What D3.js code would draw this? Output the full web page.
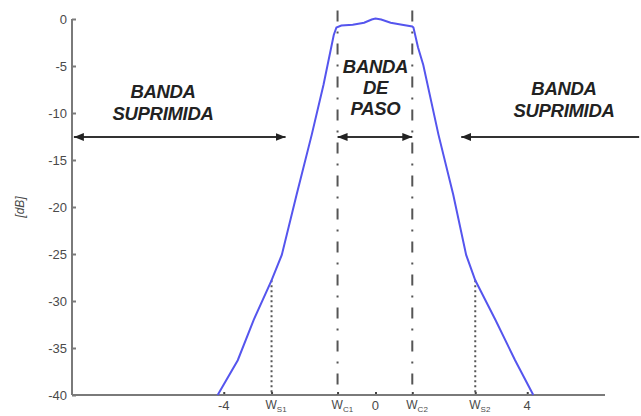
<!DOCTYPE html>
<html>
<head>
<meta charset="utf-8">
<script src="https://cdn.jsdelivr.net/npm/d3@7"></script>
<style>
  html, body { margin: 0; padding: 0; background: #fff; }
  svg { display: block; }
  text { font-family: "Liberation Sans", Arial, sans-serif; }
</style>
</head>
<body>
<svg id="chart" width="641" height="416"></svg>
<script>
// Band-pass filter magnitude response (dB) vs normalised frequency
const freq = [-4.16, -3.63, -3.21, -2.74, -2.47, -2.08, -1.68, -1.37, -1.1, -1.03,
              -0.9, -0.6, -0.3, -0.1, 0, 0.15, 0.4, 0.7, 0.97,
              1.0, 1.04, 1.12, 1.26, 1.66, 2.05, 2.39, 2.63, 3.16, 3.68, 4.16];
const magDb = [-40, -36.3, -32, -27.8, -25.1, -18.7, -12.3, -7.0, -1.7, -0.9,
               -0.7, -0.6, -0.4, -0.05, 0.05, -0.05, -0.4, -0.6, -0.8,
               -0.9, -1.6, -3.0, -4.9, -12.3, -18.7, -25.1, -27.8, -32, -36.3, -40];

// Cut-off (pass band edges) and stop band edges
const cutoff = [-1.0, 0.97];
const stopEdge = [-2.74, 2.63];
const stopEdgeDb = -27.8;

// Tick values and labels
const yTicks = [0, -5, -10, -15, -20, -25, -30, -35, -40];
const xNumTicks = [-4, 0, 4];
const xSymTicks = [
  { x: -2.74, main: "W", sub: "S1" },
  { x: -1.0, main: "W", sub: "C1" },
  { x: 0.97, main: "W", sub: "C2" },
  { x: 2.63, main: "W", sub: "S2" }
];

// Band annotations (labelDb: baseline of the last text line)
const bandArrowDb = -12.55;
const bands = [
  { lines: ["BANDA", "SUPRIMIDA"], cx: -5.6, labelDb: -10.74, from: -7.95, to: -2.37, heads: "both" },
  { lines: ["BANDA", "DE", "PASO"], cx: 0.0, labelDb: -10.2, from: -1.0, to: 0.97, heads: "both" },
  { lines: ["BANDA", "SUPRIMIDA"], cx: 4.97, labelDb: -10.43, from: 6.95, to: 2.26, heads: "end" }
];

const svg = d3.select("#chart");
const x = d3.scaleLinear().domain([-8, 6.05]).range([72, 605]);
const y = d3.scaleLinear().domain([-40, 0]).range([395, 19]);

const axisColor = "#7a7a7a";
const textColor = "#4a4a4a";

// arrow head marker
const defs = svg.append("defs");
defs.append("marker")
  .attr("id", "head")
  .attr("viewBox", "0 0 10 8")
  .attr("refX", 10).attr("refY", 4)
  .attr("markerWidth", 10).attr("markerHeight", 8)
  .attr("markerUnits", "userSpaceOnUse")
  .attr("orient", "auto-start-reverse")
  .append("path").attr("d", "M0,0 L10,4 L0,8 Z").attr("fill", "#222");

// Y axis (ticks inward)
const yAxis = d3.axisRight(y).tickValues(yTicks).tickSize(4).tickFormat("");
const gy = svg.append("g").attr("transform", `translate(${x(-8)},0)`).call(yAxis);
gy.select(".domain").remove();
gy.selectAll(".tick line").attr("stroke", axisColor).attr("stroke-width", 2);
svg.append("line")
  .attr("x1", x(-8)).attr("x2", x(-8)).attr("y1", y(0)).attr("y2", y(-40))
  .attr("stroke", axisColor).attr("stroke-width", 2);
svg.append("g").selectAll("text").data(yTicks).join("text")
  .attr("x", x(-8) - 5).attr("y", d => y(d) + 5)
  .attr("text-anchor", "end").attr("font-size", 13).attr("fill", textColor)
  .text(d => d);

// X axis (ticks inward)
const xAxis = d3.axisTop(x).tickValues(xNumTicks.concat(xSymTicks.map(d => d.x))).tickSize(3).tickFormat("");
const gx = svg.append("g").attr("transform", `translate(0,${y(-40)})`).call(xAxis);
gx.select(".domain").remove();
gx.selectAll(".tick line").attr("stroke", "#444").attr("stroke-width", 2);
svg.append("line")
  .attr("x1", x(-8)).attr("x2", x(6.05)).attr("y1", y(-40)).attr("y2", y(-40))
  .attr("stroke", axisColor).attr("stroke-width", 2);
svg.append("g").selectAll("text").data(xNumTicks).join("text")
  .attr("x", d => x(d)).attr("y", y(-40) + 15)
  .attr("text-anchor", "middle").attr("font-size", 13).attr("fill", textColor)
  .text(d => d);
const sym = svg.append("g").selectAll("text").data(xSymTicks).join("text")
  .attr("x", d => x(d.x) - 6).attr("y", y(-40) + 14)
  .attr("font-size", 12).attr("fill", textColor);
sym.append("tspan").text(d => d.main);
sym.append("tspan").attr("dy", 3).attr("font-size", 8).text(d => d.sub);

// Y label
svg.append("text")
  .attr("transform", `translate(24,${y(-20)}) rotate(-90)`)
  .attr("text-anchor", "middle").attr("font-size", 12).attr("font-style", "italic")
  .attr("fill", textColor).text("[dB]");

// Vertical dash-dot lines at the cut-off frequencies
svg.append("g").selectAll("line").data(cutoff).join("line")
  .attr("x1", d => x(d)).attr("x2", d => x(d))
  .attr("y1", y(0.9)).attr("y2", y(-40))
  .attr("stroke", "#555").attr("stroke-width", 2)
  .attr("stroke-dasharray", "11,10,2,10");

// Dotted lines at the stop band edges
svg.append("g").selectAll("line").data(stopEdge).join("line")
  .attr("x1", d => x(d)).attr("x2", d => x(d))
  .attr("y1", y(stopEdgeDb)).attr("y2", y(-40))
  .attr("stroke", "#555").attr("stroke-width", 2)
  .attr("stroke-dasharray", "2,3");

// Response curve
const line = d3.line().x((d, i) => x(freq[i])).y(d => y(d));
svg.append("path").datum(magDb)
  .attr("d", line)
  .attr("fill", "none").attr("stroke", "#5555ee").attr("stroke-width", 2);

// Band labels and arrows
bands.forEach(b => {
  const n = b.lines.length;
  const gap = n > 2 ? 21 : 22;
  const baseY = y(b.labelDb) - (n - 1) * gap;
  svg.append("g").selectAll("text").data(b.lines).join("text")
    .attr("x", x(b.cx)).attr("y", (d, i) => baseY + i * gap)
    .attr("text-anchor", "middle").attr("font-size", 18.5)
    .attr("font-weight", "bold").attr("font-style", "italic")
    .attr("fill", "#222").attr("letter-spacing", -0.3)
    .text(d => d);
  const a = svg.append("line")
    .attr("x1", x(b.from)).attr("x2", x(b.to))
    .attr("y1", y(bandArrowDb)).attr("y2", y(bandArrowDb))
    .attr("stroke", "#333").attr("stroke-width", 2)
    .attr("marker-end", "url(#head)");
  if (b.heads === "both") a.attr("marker-start", "url(#head)");
});
</script>
</body>
</html>
